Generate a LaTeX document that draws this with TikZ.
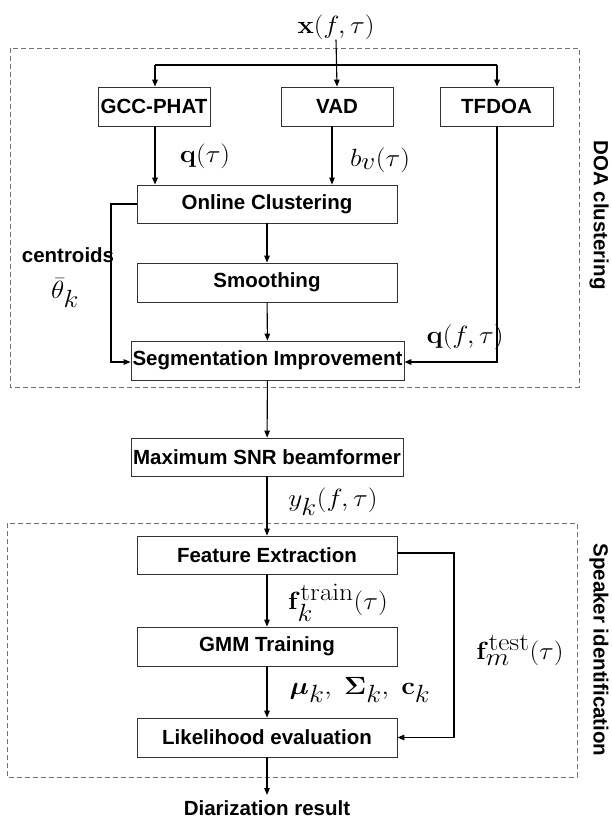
\documentclass[tikz,border=0pt]{standalone}
\usepackage{amsmath}
\usepackage{bm}
\usepackage{graphicx}
\usepackage[no-math]{fontspec}
\setmainfont{Liberation Sans}
\usetikzlibrary{arrows.meta}
% large math labels with roomy indices
\DeclareMathSizes{30}{30}{26}{20}
\newcommand{\wlab}[1]{\scalebox{1.1}[1]{$#1$}}
\begin{document}
\begin{tikzpicture}[x=1pt,y=-1pt,
  blk/.style={draw=black!80,line width=0.8pt,inner sep=0pt,
    font=\fontsize{20.5}{24}\selectfont\bfseries,minimum height=39pt},
  lbl/.style={inner sep=0pt,font=\fontsize{30}{34}\selectfont},
  side/.style={inner sep=0pt,font=\fontsize{20.5}{24}\selectfont\bfseries},
  group/.style={draw=black!55,line width=0.8pt,dash pattern=on 5pt off 3pt},
  wire/.style={draw=black,line width=1.1pt},
  fat/.style={draw=black,line width=1.6pt},
  tip/.style={-{Triangle[length=7pt,width=5.5pt]}}]
\useasboundingbox (0,0) rectangle (611,822);

% dashed group frames
\draw[group] (10,48) rectangle (579,387);
\draw[group] (7,523) rectangle (577,777);
\node[side,rotate=-90] (doa) at (599,215) {DOA clustering};
\node[side,rotate=-90] (spk) at (599,650) {Speaker identification};

% processing blocks
\node[blk,minimum width=112pt] (gcc) at (154,106.5) {GCC-PHAT};
\node[blk,minimum width=112pt] (vad) at (337,106.5) {VAD};
\node[blk,minimum width=113pt] (tfd) at (496.5,106.5) {TFDOA};
\node[blk,minimum width=260pt,minimum height=38pt] (oc) at (267,204) {Online Clustering};
\node[blk,minimum width=260pt] (sm) at (267,282.5) {Smoothing};
\node[blk,minimum width=273pt] (seg) at (267.5,360.5) {Segmentation Improvement};
\node[blk,minimum width=272pt,minimum height=38pt] (snr) at (267,457) {Maximum SNR beamformer};
\node[blk,minimum width=260pt,minimum height=38pt] (fe) at (267,555) {Feature Extraction};
\node[blk,minimum width=260pt] (gmm) at (267,646.5) {GMM Training};
\node[blk,minimum width=260pt] (lik) at (267,737.5) {Likelihood evaluation};
\node[side] (res) at (267,808) {Diarization result};

% signal labels
\node[lbl] (xin) at (336,27) {\wlab{\mathbf{x}(f,\tau)}};
\node[lbl] (qt) at (205,156) {\wlab{\mathbf{q}(\tau)}};
\node[lbl] (bv) at (380,160) {\wlab{b_v(\tau)}};
\node[lbl] (qft) at (465,337) {\wlab{\mathbf{q}(f,\tau)}};
\node[side] (cen) at (68,255) {centroids};
\node[lbl] (th) at (65,293) {\wlab{\bar{\theta}_k}};
\node[lbl] (yk) at (333,502) {\wlab{y_k(f,\tau)}};
\node[lbl] (ftr) at (338,603) {\wlab{\mathbf{f}_k^{\mathrm{train}}(\tau)}};
\node[lbl] (par) at (360,690) {\wlab{\bm{\mu}_k,\;\bm{\Sigma}_k,\;\mathbf{c}_k}};
\node[lbl] (fte) at (520,650) {\wlab{\mathbf{f}_m^{\mathrm{test}}(\tau)}};

% input distribution
\coordinate (brL) at (155,65);
\coordinate (brR) at (497,65);
\draw[wire,tip] (xin.south) -- (vad.north);
\draw[fat] (brL) -- (brR);
\draw[fat,tip] (brL) -- (gcc.north -| brL);
\draw[fat,tip] (brR) -- (tfd.north -| brR);

% DOA clustering chain
\draw[fat,tip] (gcc.south -| brL) -- (oc.north -| brL);
\coordinate (vx) at (332,0);
\draw[wire,tip] (vad.south -| vx) -- (oc.north -| vx);
\draw[wire,tip] (oc) -- (sm);
\draw[wire,tip] (sm) -- (seg);
\coordinate (cx) at (111,362);
\draw[wire,tip] (oc.west) -- (oc.west -| cx) -- (cx) -- (cx -| seg.west);
\coordinate (tx) at (497,362);
\draw[fat,tip] (tfd.south -| tx) -- (tx) -- (tx -| seg.east);

% beamforming and speaker identification
\draw[wire,tip] (seg) -- (snr);
\draw[wire,tip] (snr) -- (fe);
\draw[wire,tip] (fe) -- (gmm);
\draw[wire,tip] (gmm) -- (lik);
\coordinate (rend) at (267,795);
\draw[wire,tip] (lik.south) -- (rend);
\coordinate (fx) at (454,553);
\draw[wire,tip] (fx -| fe.east) -- (fx) -- (fx |- lik.east) -- (lik.east);
\end{tikzpicture}
\end{document}
